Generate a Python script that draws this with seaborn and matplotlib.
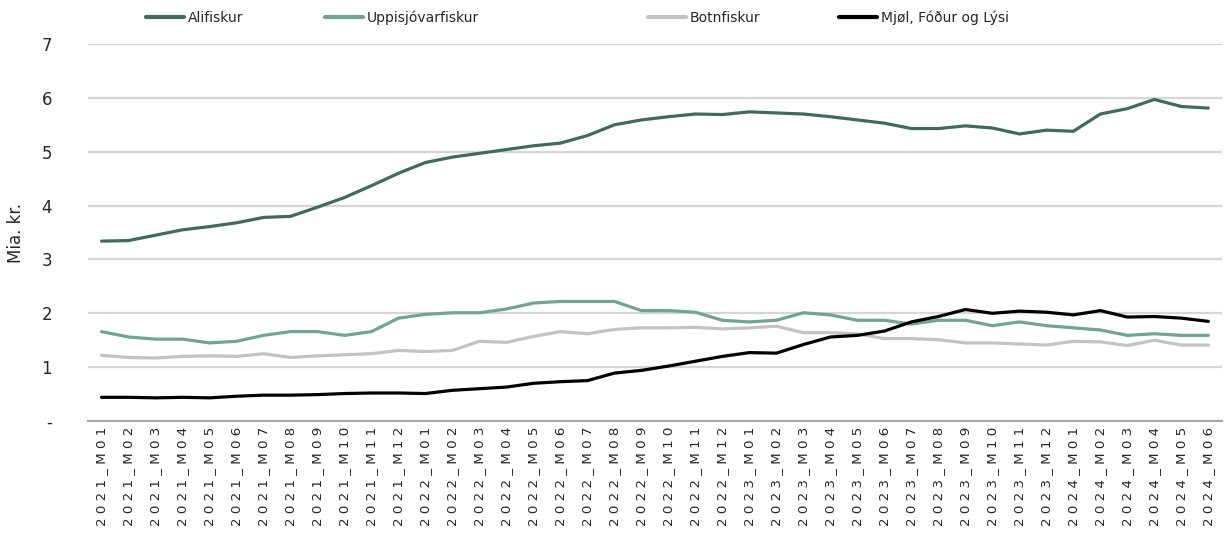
import pandas as pd
import numpy as np
import matplotlib.pyplot as plt
import seaborn as sns
from matplotlib.lines import Line2D

# mánaðir 2021_M01 - 2024_M06
months = [f'{y}_M{m:02d}' for y in range(2021, 2025) for m in range(1, 13)][:42]

alifiskur = [3.34, 3.35, 3.45, 3.55, 3.61, 3.68, 3.78, 3.80, 3.97, 4.15, 4.37, 4.60,
             4.80, 4.90, 4.97, 5.04, 5.11, 5.16, 5.30, 5.50, 5.59, 5.65, 5.70, 5.69,
             5.74, 5.72, 5.70, 5.65, 5.59, 5.53, 5.43, 5.43, 5.48, 5.44, 5.33, 5.40,
             5.38, 5.70, 5.80, 5.97, 5.84, 5.81]
uppisjovar = [1.66, 1.56, 1.52, 1.52, 1.45, 1.48, 1.59, 1.66, 1.66, 1.59, 1.66, 1.91,
              1.98, 2.01, 2.01, 2.08, 2.19, 2.22, 2.22, 2.22, 2.05, 2.05, 2.02, 1.87,
              1.84, 1.87, 2.01, 1.97, 1.87, 1.87, 1.80, 1.87, 1.87, 1.77, 1.84, 1.77,
              1.73, 1.69, 1.59, 1.62, 1.59, 1.59]
botnfiskur = [1.22, 1.18, 1.17, 1.20, 1.21, 1.20, 1.25, 1.18, 1.21, 1.23, 1.25, 1.31,
              1.29, 1.31, 1.48, 1.46, 1.57, 1.66, 1.62, 1.70, 1.73, 1.73, 1.74, 1.71,
              1.73, 1.76, 1.64, 1.64, 1.62, 1.53, 1.53, 1.51, 1.45, 1.45, 1.43, 1.41,
              1.48, 1.47, 1.40, 1.50, 1.41, 1.41]
mjol = [0.44, 0.44, 0.43, 0.44, 0.43, 0.46, 0.48, 0.48, 0.49, 0.51, 0.52, 0.52,
        0.51, 0.57, 0.60, 0.63, 0.70, 0.73, 0.75, 0.89, 0.94, 1.02, 1.11, 1.20,
        1.27, 1.26, 1.42, 1.56, 1.59, 1.67, 1.84, 1.94, 2.07, 2.00, 2.04, 2.02,
        1.97, 2.05, 1.93, 1.94, 1.91, 1.85]

names = ['Alifiskur', 'Uppisjóvarfiskur', 'Botnfiskur', 'Mjøl, Fóður og Lýsi']
colors = ['#3f6b5e', '#6fa595', '#c3c3c3', '#000000']

df = pd.DataFrame({'month': months, names[0]: alifiskur, names[1]: uppisjovar,
                   names[2]: botnfiskur, names[3]: mjol})
long = df.melt(id_vars='month', var_name='serie', value_name='value')
long['x'] = long['month'].map({m: i for i, m in enumerate(months)})

sns.set_style('white')
plt.rcParams['font.family'] = ['DejaVu Sans']

fig = plt.figure(figsize=(12.28, 5.34), dpi=100)
ax = fig.add_axes([0.0717, 0.2116, 0.9233, 0.706])

sns.lineplot(data=long, x='x', y='value', hue='serie', hue_order=names,
             palette=colors, linewidth=2.3, ax=ax, legend=False)

ax.set_xlim(-0.5, len(months) - 0.5)
ax.set_ylim(0, 7)
ax.set_yticks(range(0, 8))
ax.set_yticklabels(['-'] + [str(i) for i in range(1, 8)], fontsize=12)
ax.yaxis.grid(True, color='#d6d6d6', linewidth=1.6)
ax.set_axisbelow(True)

# tick-tekstir við millumrúmi millum stavir
ax.set_xticks(range(len(months)))
ax.set_xticklabels([' '.join(m) for m in months], rotation=90, fontsize=9.6)
ax.set_xticks(np.arange(-0.5, len(months), 1), minor=True)
ax.tick_params(axis='x', which='major', length=0, pad=4)
ax.tick_params(axis='x', which='minor', length=5, color='#a6a6a6', width=1.2)
ax.tick_params(axis='y', length=0, pad=26)

for s in ['top', 'right', 'left']:
    ax.spines[s].set_visible(False)
ax.spines['bottom'].set_color('#a6a6a6')
ax.spines['bottom'].set_linewidth(1.5)

ax.set_xlabel('')
ax.set_ylabel('Mia. kr.', fontsize=12)
ax.yaxis.set_label_coords(-0.0555, 0.5)

# legend: hvør postur fyri seg
leg_x = [148, 327, 650, 841]
for name, col, px in zip(names, colors, leg_x):
    h = Line2D([], [], color=col, linewidth=3)
    lg = fig.legend([h], [name], loc='center left',
                    bbox_to_anchor=(px / 1228 - 0.006, 1 - 18 / 534),
                    frameon=False, fontsize=10, handlelength=2.7,
                    handletextpad=0.3, borderaxespad=0)

plt.savefig('out.png', dpi=100)
